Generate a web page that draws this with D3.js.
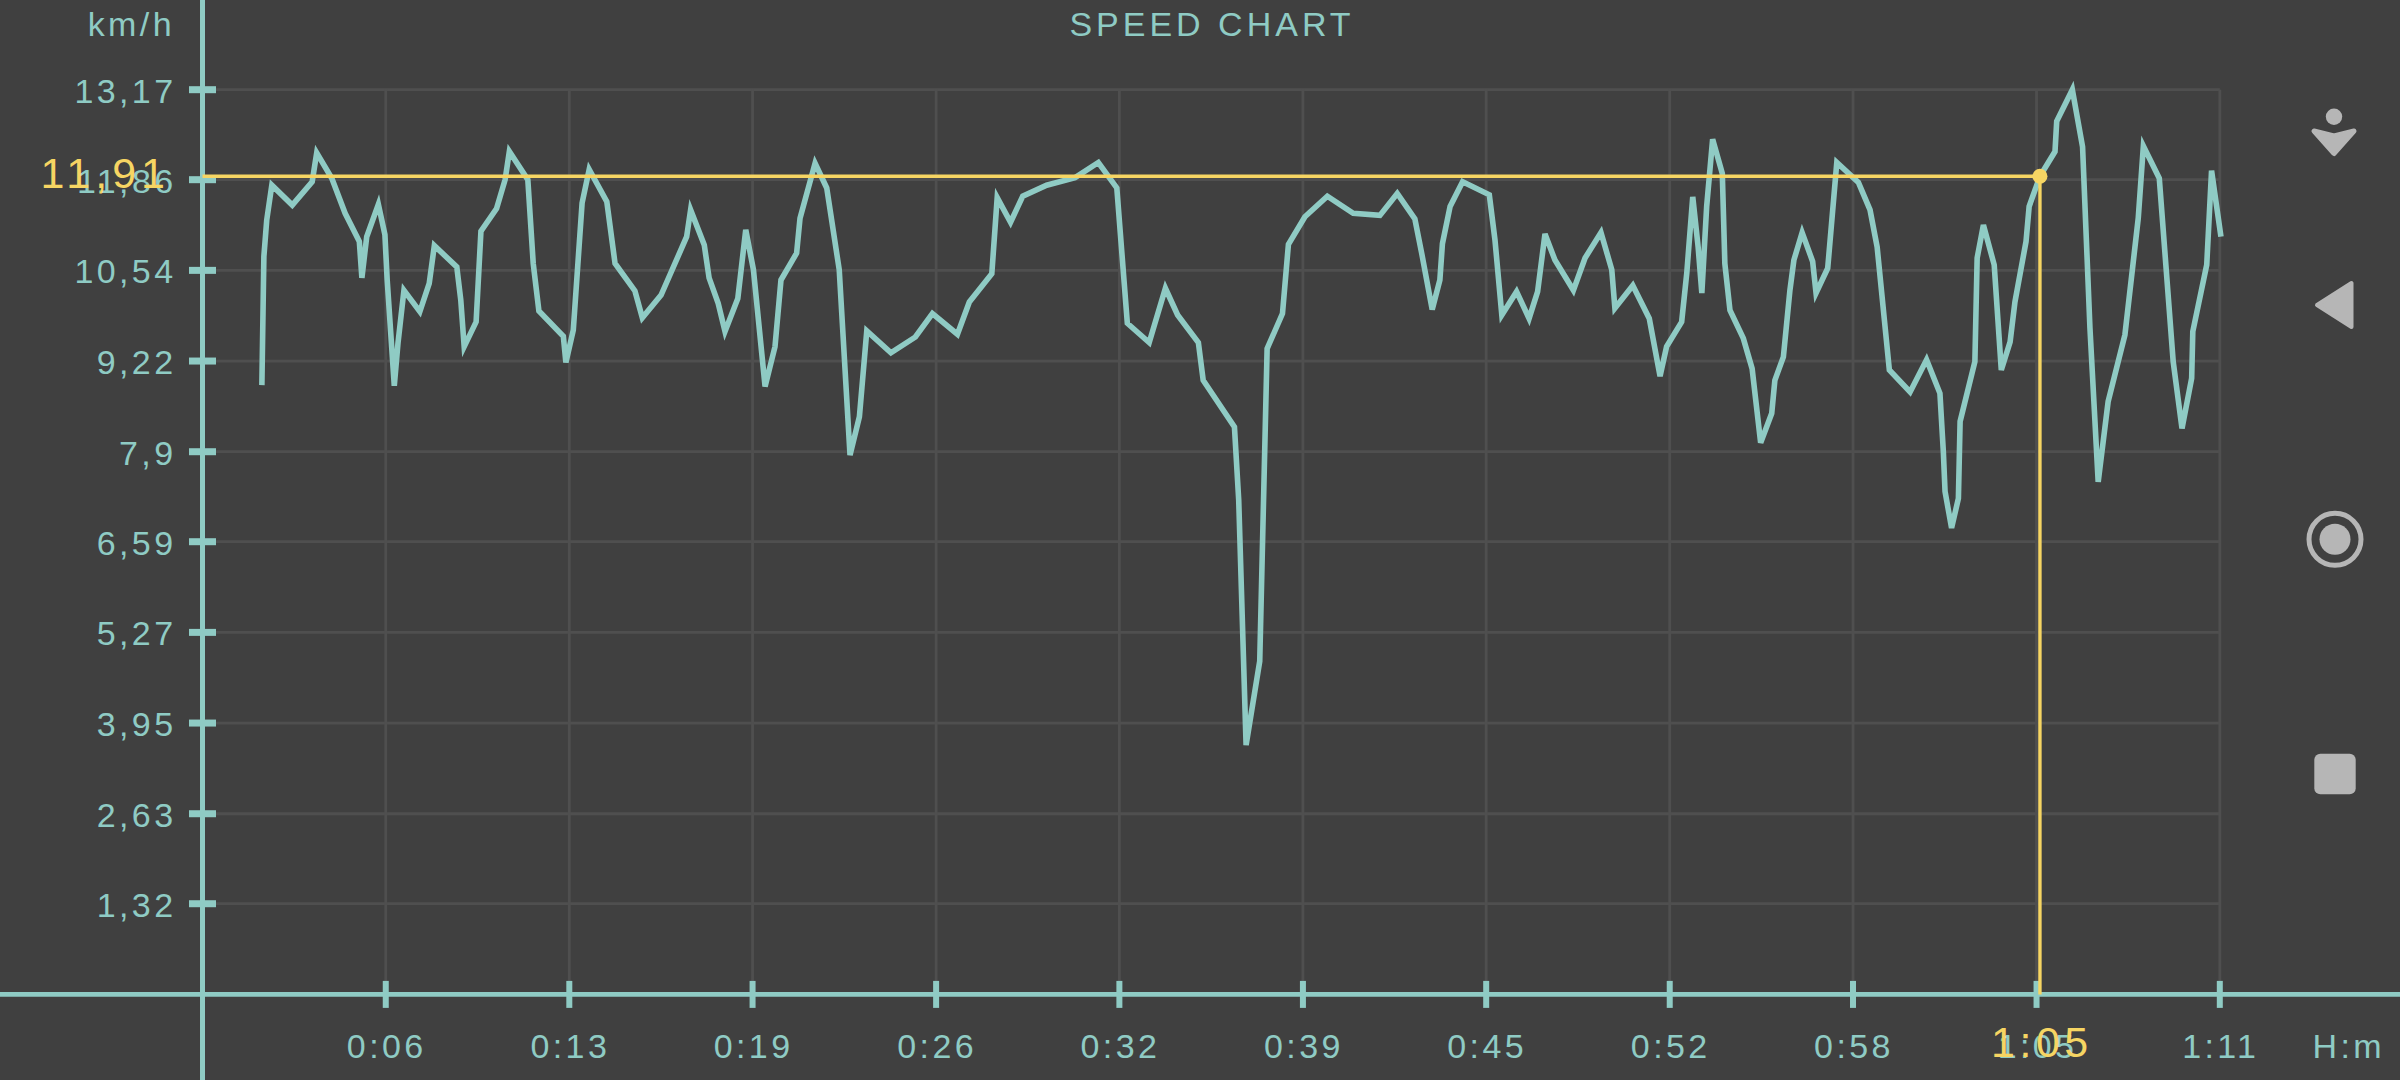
<!DOCTYPE html>
<html>
<head>
<meta charset="utf-8">
<script src="https://cdn.jsdelivr.net/npm/d3@7"></script>
<style>
  html, body { margin: 0; padding: 0; background: #404040; overflow: hidden; }
  text { font-family: "Liberation Sans", sans-serif; }
</style>
</head>
<body>
<script>
// minutes since start
const times = [2.09,2.16,2.26,2.44,3.16,3.86,4.02,4.55,5.02,5.52,5.61,5.78,6.19,6.42,6.50,6.75,6.88,7.09,7.65,7.98,
  8.16,8.95,9.09,9.21,9.63,9.80,10.35,10.65,10.80,11.45,11.64,11.84,12.70,12.79,13.05,13.36,13.61,14.23,14.52,15.22,
  15.48,16.14,17.04,17.18,17.66,17.83,18.15,18.39,18.84,19.12,19.39,19.80,20.15,20.36,20.91,21.03,21.56,21.97,22.41,22.79,
  23.12,23.38,24.23,25.09,25.69,26.57,26.99,27.78,27.97,28.44,28.87,29.71,30.71,31.53,32.18,32.55,33.32,33.89,34.32,35.05,
  35.22,36.32,36.47,36.73,37.21,37.47,38.01,38.22,38.80,39.59,40.50,41.44,42.05,42.67,42.91,43.28,43.55,43.64,43.91,44.35,
  45.29,45.49,45.73,46.25,46.69,46.99,47.25,47.60,48.25,48.66,49.22,49.60,49.71,50.34,50.92,51.30,51.53,52.06,52.24,52.45,
  52.64,52.77,52.94,53.15,53.49,53.58,53.76,54.23,54.54,54.84,55.23,55.34,55.64,55.87,56.01,56.30,56.67,56.79,57.20,57.52,
  58.28,58.69,58.94,59.37,60.10,60.68,61.15,61.27,61.33,61.56,61.80,61.86,62.38,62.46,62.68,63.06,63.31,63.62,63.79,64.18,
  64.29,64.67,65.20,65.26,65.81,66.17,66.43,66.72,67.07,67.66,68.13,68.31,68.87,69.36,69.67,70.01,70.05,70.54,70.71,71.04]

// km/h
const speeds = [8.87,10.74,11.27,11.78,11.49,11.83,12.25,11.88,11.37,10.96,10.43,11.03,11.50,11.06,10.40,8.86,9.48,10.25,9.94,10.35,
  10.90,10.59,10.11,9.43,9.79,11.11,11.44,11.86,12.27,11.86,10.64,9.95,9.58,9.20,9.67,11.52,12.01,11.54,10.64,10.24,
  9.85,10.18,11.03,11.42,10.91,10.43,10.06,9.65,10.13,11.13,10.55,8.85,9.43,10.40,10.79,11.30,12.10,11.74,10.55,7.85,
  8.41,9.66,9.34,9.57,9.91,9.61,10.08,10.49,11.60,11.24,11.62,11.78,11.89,12.11,11.74,9.77,9.49,10.28,9.89,9.49,
  8.94,8.26,7.20,3.63,4.85,9.40,9.91,10.92,11.32,11.62,11.37,11.34,11.66,11.29,10.79,9.97,10.40,10.93,11.47,11.83,
  11.64,10.98,9.89,10.23,9.84,10.23,11.07,10.69,10.25,10.72,11.09,10.55,9.99,10.32,9.84,9.00,9.43,9.79,10.50,11.61,
  10.88,10.21,11.47,12.45,11.95,10.64,9.96,9.55,9.11,8.03,8.46,8.94,9.28,10.25,10.69,11.09,10.67,10.21,10.57,12.11,
  11.82,11.42,10.88,9.09,8.77,9.24,8.75,7.90,7.32,6.79,7.22,8.34,9.21,10.72,11.20,10.62,9.09,9.50,10.08,10.96,
  11.47,11.91,12.27,12.71,13.17,12.34,9.70,7.46,8.63,9.60,11.30,12.35,11.88,9.21,8.24,8.97,9.65,10.62,11.99,11.03]

const yTicks = [1.32,2.63,3.95,5.27,6.59,7.9,9.22,10.54,11.86,13.17]
const yLabels = ['1,32','2,63','3,95','5,27','6,59','7,9','9,22','10,54','11,86','13,17']
const xTicks = [6.45,12.91,19.36,25.82,32.27,38.73,45.18,51.64,58.09,64.55,71]
const xLabels = ['0:06','0:13','0:19','0:26','0:32','0:39','0:45','0:52','0:58','1:05','1:11']

const pickTime = 64.67
const pickSpeed = 11.91
const pickTimeLabel = '1:05'
const pickSpeedLabel = '11,91'

const width = 2400
const height = 1080
const teal = '#8fcbc4'
const yellow = '#f6d563'
const gridColor = '#4f4f4f'
const iconColor = '#b6b6b6'

const xScale = d3.scaleLinear().domain([0, 71]).range([202.5, 2219.8])
const yScale = d3.scaleLinear().domain([0, 13.17]).range([994.4, 89.7])

const svg = d3.select('body')
    .append('svg')
    .attr('width', width)
    .attr('height', height)
    .style('display', 'block')

// grid
svg.append('g').selectAll('line')
    .data(yTicks)
    .join('line')
    .attr('x1', 216)
    .attr('x2', xScale(71))
    .attr('y1', d => yScale(d))
    .attr('y2', d => yScale(d))
    .attr('stroke', gridColor)
    .attr('stroke-width', 2.8)

svg.append('g').selectAll('line')
    .data(xTicks)
    .join('line')
    .attr('x1', d => xScale(d))
    .attr('x2', d => xScale(d))
    .attr('y1', yScale(13.17))
    .attr('y2', 981)
    .attr('stroke', gridColor)
    .attr('stroke-width', 2.8)

// speed curve
const line = d3.line()
    .x(d => xScale(d[0]))
    .y(d => yScale(d[1]))

svg.append('path')
    .datum(d3.zip(times, speeds))
    .attr('d', line)
    .attr('fill', 'none')
    .attr('stroke', teal)
    .attr('stroke-width', 5.6)

// axes
const yAxis = d3.axisLeft(yScale)
    .tickValues(yTicks)
    .tickFormat((d, i) => yLabels[i])
    .tickSize(13.5)
    .tickPadding(12.5)
    .offset(0)

const yAxisG = svg.append('g')
    .attr('transform', `translate(${xScale(0)}, 0)`)
    .call(yAxis)

yAxisG.select('.domain').remove()
yAxisG.selectAll('.tick line')
    .attr('x2', 13.5)
    .attr('x1', -13.5)
    .attr('stroke', teal)
    .attr('stroke-width', 7)
yAxisG.selectAll('.tick text')
    .attr('fill', teal)
    .attr('dy', '0.38em')
    .style('font-size', '34px')
    .style('letter-spacing', '3.4px')

const xAxis = d3.axisBottom(xScale)
    .tickValues(xTicks)
    .tickFormat((d, i) => xLabels[i])
    .tickSize(13.5)
    .tickPadding(26)
    .offset(0)

const xAxisG = svg.append('g')
    .attr('transform', `translate(0, ${yScale(0)})`)
    .call(xAxis)

xAxisG.select('.domain').remove()
xAxisG.selectAll('.tick line')
    .attr('y1', -13.5)
    .attr('y2', 13.5)
    .attr('stroke', teal)
    .attr('stroke-width', 6)
xAxisG.selectAll('.tick text')
    .attr('fill', teal)
    .attr('dx', 1)
    .style('font-size', '34px')
    .style('letter-spacing', '3.4px')

svg.append('line')
    .attr('x1', 0).attr('x2', width)
    .attr('y1', yScale(0)).attr('y2', yScale(0))
    .attr('stroke', teal)
    .attr('stroke-width', 4.7)

svg.append('line')
    .attr('x1', xScale(0)).attr('x2', xScale(0))
    .attr('y1', 0).attr('y2', height)
    .attr('stroke', teal)
    .attr('stroke-width', 5)

// picked point
svg.append('line')
    .attr('x1', xScale(0)).attr('x2', xScale(pickTime))
    .attr('y1', yScale(pickSpeed)).attr('y2', yScale(pickSpeed))
    .attr('stroke', yellow)
    .attr('stroke-width', 3.4)

svg.append('line')
    .attr('x1', xScale(pickTime)).attr('x2', xScale(pickTime))
    .attr('y1', yScale(pickSpeed)).attr('y2', yScale(0))
    .attr('stroke', yellow)
    .attr('stroke-width', 3.4)

svg.append('circle')
    .attr('cx', xScale(pickTime))
    .attr('cy', yScale(pickSpeed))
    .attr('r', 7.5)
    .attr('fill', yellow)

svg.append('text')
    .attr('x', 170)
    .attr('y', 188)
    .attr('text-anchor', 'end')
    .attr('fill', yellow)
    .style('font-size', '43px')
    .style('letter-spacing', '5px')
    .text(pickSpeedLabel)

svg.append('text')
    .attr('x', xScale(pickTime) + 2)
    .attr('y', 1057)
    .attr('text-anchor', 'middle')
    .attr('fill', yellow)
    .style('font-size', '43px')
    .style('letter-spacing', '4.5px')
    .text(pickTimeLabel)

// titles
svg.append('text')
    .attr('x', 175).attr('y', 36)
    .attr('text-anchor', 'end')
    .attr('fill', teal)
    .style('font-size', '34px')
    .style('letter-spacing', '3.4px')
    .text('km/h')

svg.append('text')
    .attr('x', 1212).attr('y', 36)
    .attr('text-anchor', 'middle')
    .attr('fill', teal)
    .style('font-size', '34px')
    .style('letter-spacing', '4px')
    .text('SPEED CHART')

svg.append('text')
    .attr('x', 2385).attr('y', 1058)
    .attr('text-anchor', 'end')
    .attr('fill', teal)
    .style('font-size', '34px')
    .style('letter-spacing', '3.4px')
    .text('H:m')

// phone buttons on the right
const icons = svg.append('g').attr('fill', iconColor).attr('stroke', iconColor)

icons.append('circle').attr('cx', 2334).attr('cy', 116.8).attr('r', 8.2).attr('stroke', 'none')
icons.append('path')
    .attr('d', 'M2314,131 L2334,136 L2354,131 L2334,153.5 Z')
    .attr('stroke-width', 5)
    .attr('stroke-linejoin', 'round')
icons.append('path')
    .attr('d', 'M2317,305 L2351.5,283 L2351.5,327 Z')
    .attr('stroke-width', 4)
    .attr('stroke-linejoin', 'round')
icons.append('circle')
    .attr('cx', 2335).attr('cy', 539.3).attr('r', 26)
    .attr('fill', 'none')
    .attr('stroke-width', 5)
icons.append('circle').attr('cx', 2335).attr('cy', 539.3).attr('r', 15.5).attr('stroke', 'none')
icons.append('rect')
    .attr('x', 2314.3).attr('y', 753.7)
    .attr('width', 41.4).attr('height', 40.6)
    .attr('rx', 6)
    .attr('stroke', 'none')
</script>
</body>
</html>
